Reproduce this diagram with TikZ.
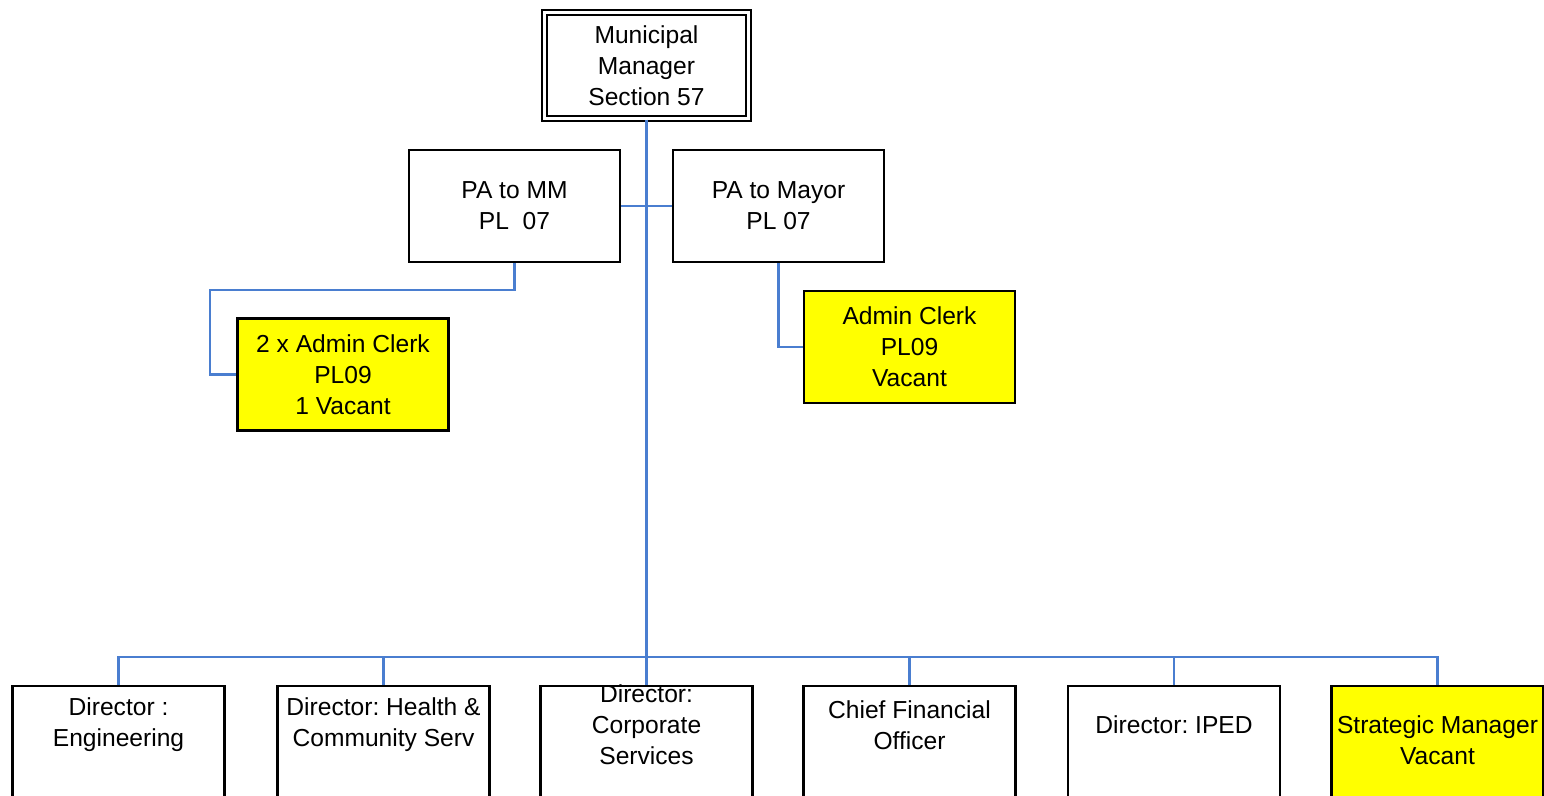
\documentclass[tikz,border=0pt]{standalone}
\usepackage{fontspec}
\setmainfont{Liberation Sans}
\frenchspacing
\definecolor{linkblue}{RGB}{74,126,208}
\definecolor{vacant}{RGB}{255,255,0}
\begin{document}
\begin{tikzpicture}[x=0.02cm,y=-0.02cm,
  txt/.style={font=\fontsize{14}{17.6}\selectfont, align=center, inner sep=0pt},
  post/.style={txt, draw=black, line width=1.4pt, rectangle,
    minimum width=4.22cm, minimum height=2.24cm},
  open/.style={post, fill=white},
  empty/.style={post, fill=vacant},
  head/.style={txt, draw=black, double=white, line width=1.3pt, double distance=1.3pt,
    minimum width=4.08cm, minimum height=2.12cm},
  dept/.style={draw=black, line width=1.4pt, fill=white, inner sep=0pt,
    minimum width=4.24cm, minimum height=3cm, anchor=north},
  conn/.style={draw=linkblue, line width=1.4pt}]
\useasboundingbox (0,0) rectangle (1544,795);
\clip (0,0) rectangle (1544,795);

% top of the hierarchy
\node[head] (mm) at (646.5,65.5) {Municipal\\Manager\\Section 57};

% personal assistants
\node[open] (pamm) at (514.5,206) {PA to MM\\PL\ \ 07};
\node[open] (pamy) at (778.5,206) {PA to Mayor\\PL 07};

% admin support
\node[empty] (ac2) at (343,374.5) {2 x Admin Clerk\\PL09\\1 Vacant};
\node[empty] (ac1) at (909.5,347) {Admin Clerk\\PL09\\Vacant};

% directorates (boxes run past the lower edge)
\node[dept] (deng) at (118.5,685) {};
\node[dept] (dhc)  at (383.5,685) {};
\node[dept] (dcs)  at (646.5,685) {};
\node[dept] (cfo)  at (909.5,685) {};
\node[dept] (iped) at (1174,685) {};
\node[dept, fill=vacant] (dsm) at (1437.5,685) {};

\node[txt] (tdeng) at (118.5,725) {Director :\\Engineering};
\node[txt] (tdhc)  at (383.5,725) {Director: Health \&\\Community Serv};
\node[txt] (tdcs)  at (646.5,725) {Director:\\Corporate\\Services};
\node[txt] (tcfo)  at (909.5,725) {Chief Financial\\Officer};
\node[txt] (tiped) at (1174,725) {Director: IPED};
\node[txt] (tdsm)  at (1437.5,740) {Strategic Manager\\Vacant};

% reporting lines
\coordinate (bus) at (646.5,657);
\coordinate (bend) at (210,290);
\draw[conn] (mm.south) -- (dcs.north);
\draw[conn] (pamm.east) -- (pamy.west);
\draw[conn] (pamm.south) |- (bend) |- (ac2.west);
\draw[conn] (pamy.south) |- (ac1.west);
\draw[conn] (deng.north) |- (bus) -| (dsm.north);
\draw[conn] (dhc.north) -- (dhc.north |- bus);
\draw[conn] (cfo.north) -- (cfo.north |- bus);
\draw[conn] (iped.north) -- (iped.north |- bus);
\end{tikzpicture}
\end{document}
